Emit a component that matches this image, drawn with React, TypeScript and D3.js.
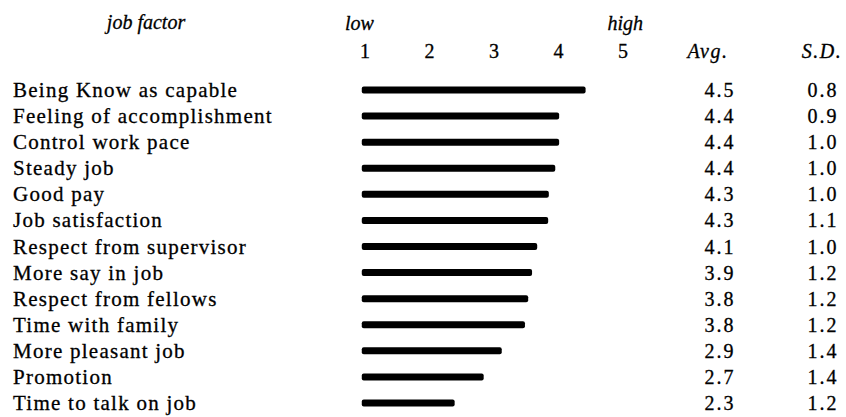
import React from "react";
import * as d3 from "d3";

// job factors, top to bottom
const factors = [
    "Being Know as capable",
    "Feeling of accomplishment",
    "Control work pace",
    "Steady job",
    "Good pay",
    "Job satisfaction",
    "Respect from supervisor",
    "More say in job",
    "Respect from fellows",
    "Time with family",
    "More pleasant job",
    "Promotion",
    "Time to talk on job",
]

const barEnds = [4.42, 4.01, 4.01, 3.95, 3.85, 3.84, 3.67, 3.59, 3.53, 3.48, 3.12, 2.84, 2.39]
const avgs = ["4.5", "4.4", "4.4", "4.4", "4.3", "4.3", "4.1", "3.9", "3.8", "3.8", "2.9", "2.7", "2.3"]
const sds = ["0.8", "0.9", "1.0", "1.0", "1.0", "1.1", "1.0", "1.2", "1.2", "1.2", "1.4", "1.4", "1.2"]
const ticks = [1, 2, 3, 4, 5]
const barStart = 0.95

const W = 846
const H = 417
const font = "'Liberation Serif', 'Times New Roman', serif"

const App = () => {
    const x = d3.scaleLinear().domain([1, 5]).range([365, 623])
    // text baselines of the rows
    const y = d3.scalePoint<string>().domain(factors).range([97, 410])

    return (
        <div style={{position: "absolute", left: 0, top: 0}}>
            <svg width={W} height={H} style={{display: "block", background: "#fff"}} fontFamily={font}>
                {/* header */}
                <g fontStyle="italic" fontSize={20} fill="#000" stroke="#000" strokeWidth={0.3}>
                    <text x={146} y={29} textAnchor="middle">job factor</text>
                    <text x={x(1) - 20} y={30}>low</text>
                    <text x={x(5) + 20} y={30} textAnchor="end">high</text>
                    <text x={708} y={58} textAnchor="middle" letterSpacing={1.5}>Avg.</text>
                    <text x={822} y={58} textAnchor="middle" letterSpacing={1.5}>S.D.</text>
                </g>
                <g fontSize={20} fill="#000" stroke="#000" strokeWidth={0.3}>
                    {ticks.map(t => (
                        <text key={t} x={x(t)} y={58} textAnchor="middle">{t}</text>
                    ))}
                </g>

                {/* rows */}
                {factors.map((f, i) => {
                    const yy = y(f) as number
                    return (
                        <g key={f} fill="#000" stroke="#000" strokeWidth={0.3}>
                            <text x={13} y={yy} fontSize={21} letterSpacing={1.25}>{f}</text>
                            <rect x={x(barStart)} y={yy - 10.5} width={x(barEnds[i]) - x(barStart)} height={7}
                                  rx={2} strokeWidth={0}/>
                            <text x={720} y={yy} fontSize={20} letterSpacing={2} textAnchor="middle">{avgs[i]}</text>
                            <text x={823} y={yy} fontSize={20} letterSpacing={2} textAnchor="middle">{sds[i]}</text>
                        </g>
                    )
                })}
            </svg>
        </div>
    );
};

export default App;
